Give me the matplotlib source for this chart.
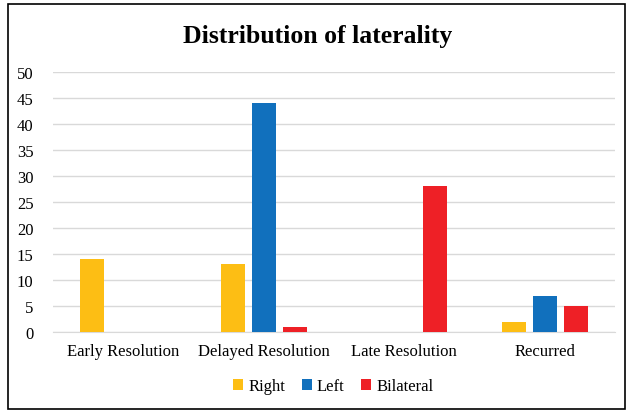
import numpy as np
import matplotlib
matplotlib.use("Agg")
import matplotlib.pyplot as plt
from matplotlib.patches import Rectangle

categories = ["Early Resolution", "Delayed Resolution", "Late Resolution", "Recurred"]
series_names = ["Right", "Left", "Bilateral"]
right = [14, 13, 0, 2]
left = [0, 44, 0, 7]
bilateral = [0, 1, 28, 5]
colors = ["#FDBE14", "#1170BD", "#EE2026"]

plt.rcParams["font.family"] = ["Liberation Serif", "DejaVu Serif"]

fig = plt.figure(figsize=(6.35, 4.14), dpi=100)
ax = fig.add_axes([0.0835, 0.1957, 0.885, 0.628])

x = np.arange(len(categories))
w = 0.172
step = 0.22
for i, (vals, name, c) in enumerate(zip([right, left, bilateral], series_names, colors)):
    ax.bar(x + (i - 1) * step, vals, width=w, color=c, label=name, zorder=3)

ax.set_xlim(-0.5, len(categories) - 0.5)
ax.set_ylim(0, 50)
ax.set_yticks(range(0, 51, 5))
ax.set_xticks(x)
ax.set_xticklabels(categories, fontsize=12)
ax.tick_params(axis="y", labelsize=12, length=0, pad=14)
ax.tick_params(axis="x", length=0, pad=8)
ax.yaxis.grid(True, color="#D9D9D9", linewidth=1, zorder=0)
for s in ["top", "right", "left"]:
    ax.spines[s].set_visible(False)
ax.spines["bottom"].set_color("#D9D9D9")

fig.suptitle("Distribution of laterality", y=0.94, fontsize=18.5, fontweight="bold")
fig.legend(loc="center", bbox_to_anchor=(0.525, 0.065), ncol=3, frameon=False,
           fontsize=12, handlelength=0.6, handleheight=0.6, handletextpad=0.3,
           columnspacing=1.0)

fig.patches.append(Rectangle((0.013, 0.01), 0.972, 0.978, transform=fig.transFigure,
                             fill=False, edgecolor="black", linewidth=1.2))

fig.savefig("out.png", dpi=100)
